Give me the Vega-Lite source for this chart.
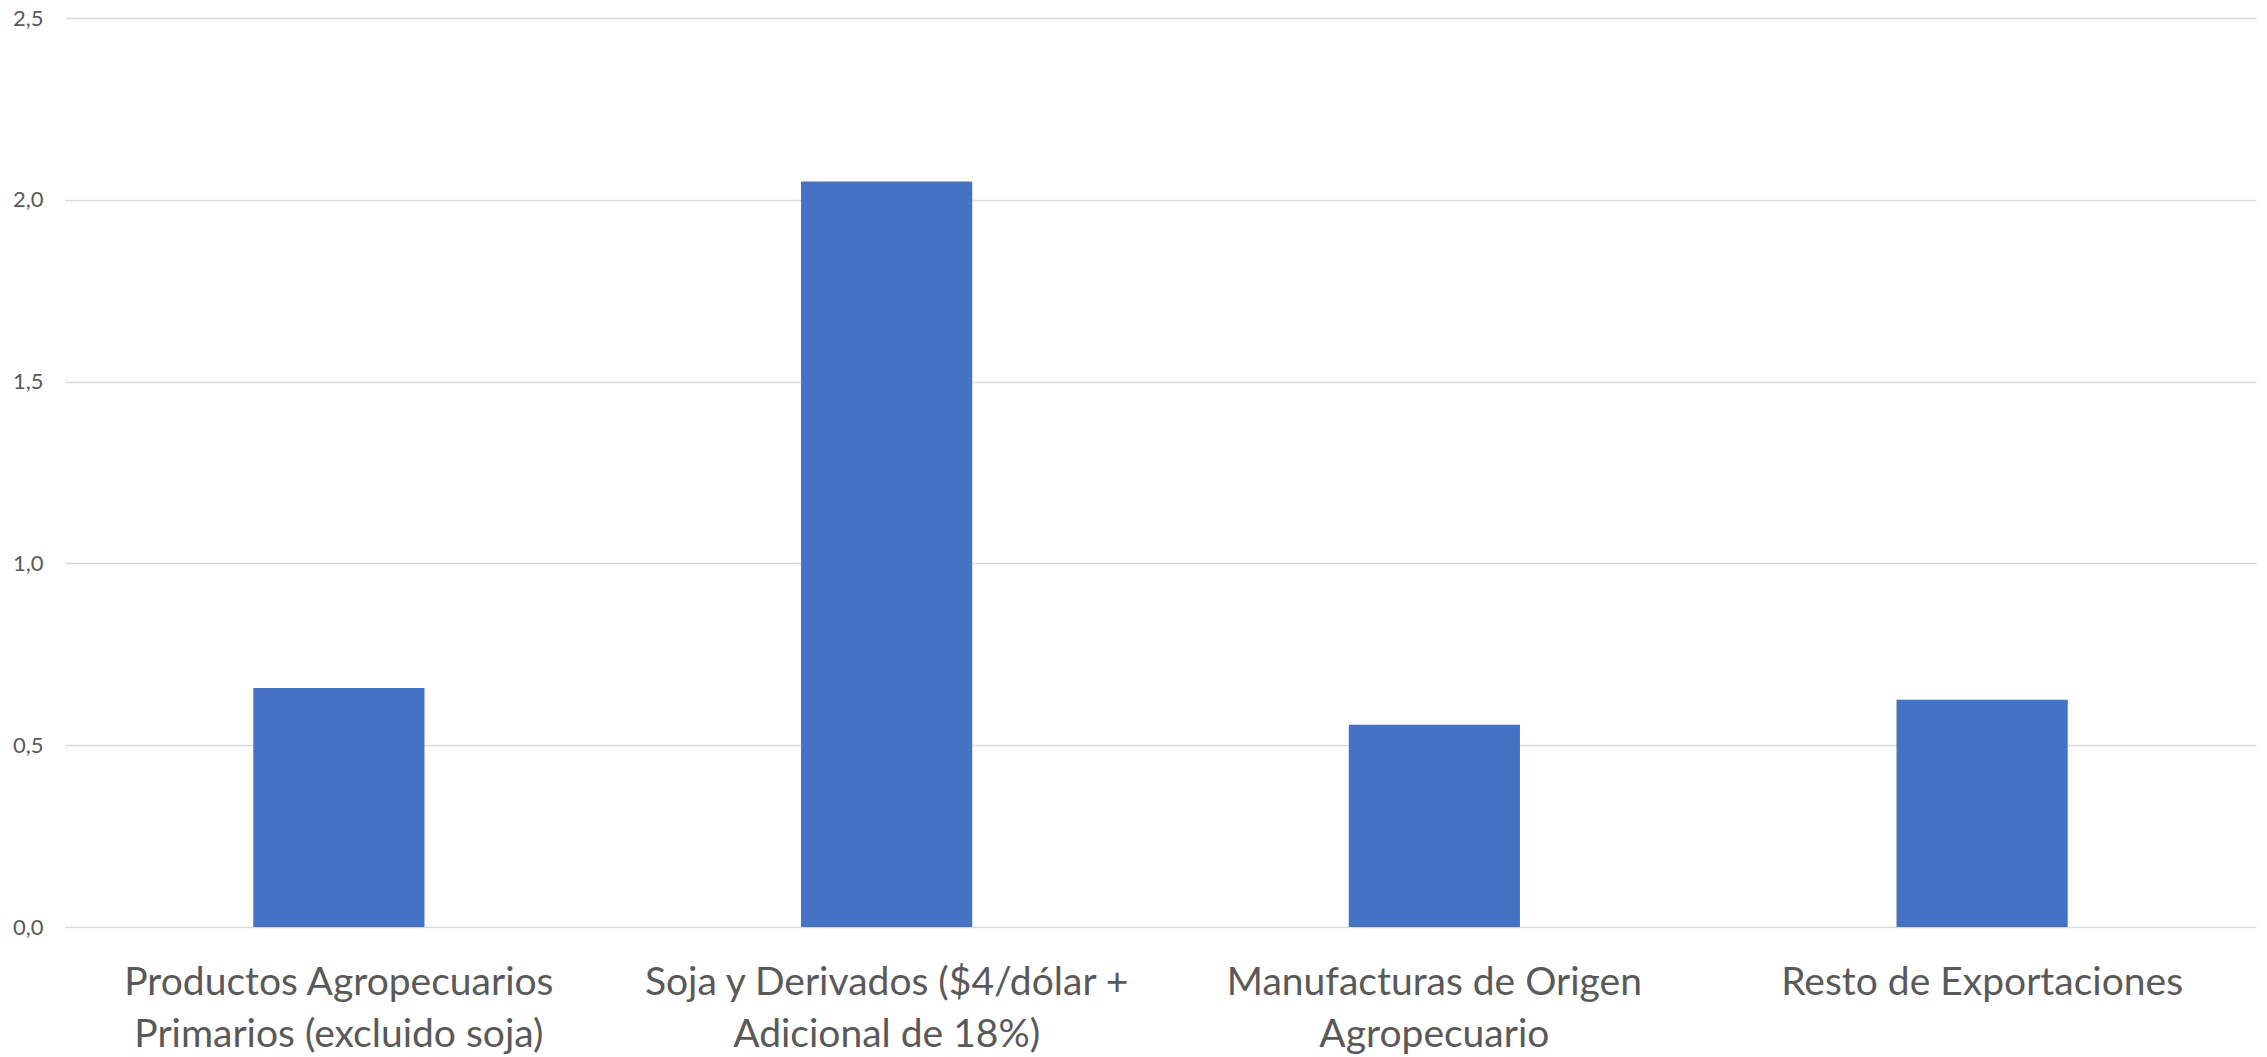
{
  "$schema": "https://vega.github.io/schema/vega-lite/v6.json",
  "autosize": {"type": "none"},
  "width": 2191,
  "height": 909,
  "padding": {"left": 65, "top": 18, "right": 11, "bottom": 130},
  "background": "white",
  "config": {
    "view": {"stroke": null},
    "font": "Lato"
  },
  "data": {
    "values": [
      {"categoria": "Productos Agropecuarios Primarios (excluido soja)", "valor": 0.657},
      {"categoria": "Soja y Derivados ($4/dólar + Adicional de 18%)", "valor": 2.05},
      {"categoria": "Manufacturas de Origen Agropecuario", "valor": 0.556},
      {"categoria": "Resto de Exportaciones", "valor": 0.625}
    ]
  },
  "mark": {"type": "bar", "color": "#4472C4"},
  "encoding": {
    "x": {
      "field": "categoria",
      "type": "nominal",
      "sort": null,
      "scale": {"paddingInner": 0.6875, "paddingOuter": 0.34375},
      "axis": {
        "title": null,
        "domain": false,
        "ticks": false,
        "tickSize": 0,
        "labelAngle": 0,
        "labelFont": "Lato",
        "labelFontSize": 39,
        "labelColor": "#595959",
        "labelBaseline": "top",
        "labelPadding": 36,
        "labelLineHeight": 52,
        "labelLimit": 0,
        "labelExpr": "datum.value == 'Productos Agropecuarios Primarios (excluido soja)' ? ['Productos Agropecuarios', 'Primarios (excluido soja)'] : datum.value == 'Soja y Derivados ($4/dólar + Adicional de 18%)' ? ['Soja y Derivados ($4/dólar +', 'Adicional de 18%)'] : datum.value == 'Manufacturas de Origen Agropecuario' ? ['Manufacturas de Origen', 'Agropecuario'] : datum.label"
      }
    },
    "y": {
      "field": "valor",
      "type": "quantitative",
      "scale": {"domain": [0, 2.5], "nice": false},
      "axis": {
        "title": null,
        "domain": false,
        "ticks": false,
        "tickSize": 0,
        "values": [0, 0.5, 1, 1.5, 2, 2.5],
        "labelExpr": "replace(format(datum.value, '.1f'), '.', ',')",
        "labelFont": "Lato",
        "labelFontSize": 22,
        "labelColor": "#595959",
        "labelPadding": 22,
        "grid": true,
        "gridColor": "#D9D9D9",
        "gridWidth": 1.5
      }
    }
  }
}
